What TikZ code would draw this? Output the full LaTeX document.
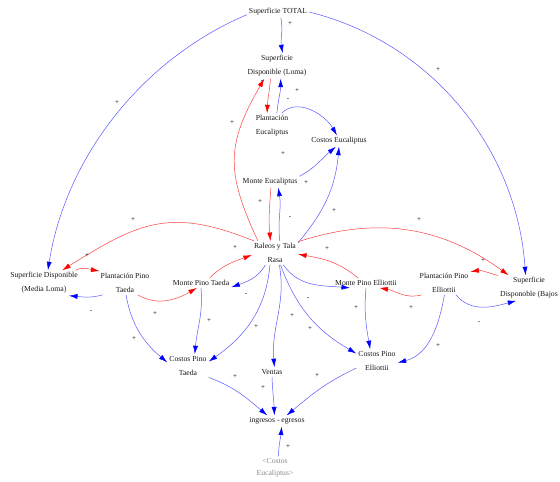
\documentclass[tikz,border=0pt]{standalone}
\usepackage{fontspec}
\setmainfont{Liberation Serif}
\usetikzlibrary{arrows.meta}
\tikzset{
  var/.style={font=\fontsize{7.7}{14}\selectfont, align=center, inner sep=2pt, text=black!90},
  shadow/.style={var, font=\fontsize{7.7}{12}\selectfont, text=black!45},
  pol/.style={font=\fontsize{7}{7}\selectfont, inner sep=0pt, text=black},
  lk/.style={line width=0.5pt},
  bl/.style={lk, draw=blue!65, -{Latex[length=8.5pt,width=5pt,color=blue]}},
  rd/.style={lk, draw=red!75, -{Latex[length=8.5pt,width=5pt,color=red]}}
}
\begin{document}
\begin{tikzpicture}[x=1pt,y=1pt]
\fill[white] (0,0) rectangle (560,482);
\useasboundingbox (0,0) rectangle (560,482);
% variables
\node[var] (tot) at (278,470) {Superficie TOTAL};
\node[var] (loma) at (277,416) {Superficie\\Disponible (Loma)};
\node[var] (peuc) at (272,356) {Plantación\\Eucaliptus};
\node[var] (ceuc) at (339,341) {Costos Eucaliptus};
\node[var] (meuc) at (270,300) {Monte Eucaliptus};
\node[var] (ral) at (275,229) {Raleos y Tala\\Rasa};
\node[var] (media) at (44,199) {Superficie Disponible\\(Media Loma)};
\node[var] (ppt) at (125,199) {Plantación Pino\\Taeda};
\node[var] (mpt) at (201,199) {Monte Pino Taeda};
\node[var] (mpe) at (366,199) {Monte Pino Elliottii};
\node[var] (ppe) at (444,199) {Plantación Pino\\Elliottii};
\node[var] (bajos) at (529,194) {Superficie\\Disponoble (Bajos};
\node[var] (cpt) at (188,116) {Costos Pino\\Taeda};
\node[var] (ventas) at (272,110) {Ventas};
\node[var] (cpe) at (377,121) {Costos Pino\\Elliottii};
\node[var] (ing) at (277,61) {ingresos - egresos};
\node[shadow] (ceuc2) at (275,14) {<Costos\\Eucaliptus>};
% connectors
\draw[bl] (tot.-63) to[out=-80,in=100] (loma.66);
\draw[bl] (tot.185) to[out=203,in=81,looseness=0.9] (media.73);
\draw[bl] (tot.east) to[out=-14,in=94,looseness=0.95] (bajos.105);
\draw[rd] (loma.243) to[out=265,in=88] (peuc.111);
\draw[bl] (peuc.69) to[out=85,in=270] (loma.-74);
\draw[bl] (peuc.53) to[out=45,in=120] (ceuc.110);
\draw[bl] (meuc.north east) to[out=28,in=220] (ceuc.241);
\draw[bl] (ral.24) to[out=50,in=265] (ceuc.south);
\draw[bl] (ral.68) to[out=97,in=-80] (meuc.-35);
\draw[rd] (meuc.-80) to[out=265,in=95] (ral.111);
\draw[rd] (ral.145) to[out=115,in=240,looseness=1.2] (loma.225);
\draw[rd] (ral.150) to[out=158,in=32,looseness=1.2] (media.35);
\draw[rd] (media.22) to[out=25,in=170] (ppt.155);
\draw[bl] (ppt.208) to[out=195,in=-5] (media.-27);
\draw[rd] (ppt.-43) to[out=-30,in=210] (mpt.230);
\draw[rd] (mpt.30) to[out=45,in=200] (ral.185);
\draw[bl] (ral.231) to[out=240,in=20] (mpt.-8);
\draw[bl] (ppt.-85) to[out=-80,in=140] (cpt.170);
\draw[bl] (mpt.south) to[out=-85,in=85] (cpt.60);
\draw[bl] (ral.247) to[out=265,in=35] (cpt.12);
\draw[bl] (ral.-70) to[out=-80,in=95] (ventas.63);
\draw[bl] (ral.-65) to[out=-70,in=150] (cpe.160);
\draw[bl] (ral.-55) to[out=-55,in=175] (mpe.197);
\draw[rd] (mpe.148) to[out=140,in=-10] (ral.-3);
\draw[rd] (ppe.208) to[out=195,in=-10] (mpe.-20);
\draw[bl] (mpe.south) to[out=265,in=100] (cpe.120);
\draw[bl] (ppe.-88) to[out=260,in=15] (cpe.-5);
\draw[bl] (ppe.-45) to[out=-50,in=195] (bajos.225);
\draw[rd] (bajos.158) to[out=165,in=10] (ppe.23);
\draw[rd] (ral.26) to[out=18,in=144] (bajos.148);
\draw[bl] (cpt.-29) to[out=-20,in=140] (ing.150);
\draw[bl] (ventas.south) to[out=-88,in=92] (ing.115);
\draw[bl] (cpe.199) to[out=205,in=40] (ing.30);
\draw[bl] (ceuc2.73) to[out=90,in=265] (ing.-50);
% polarities
\foreach \n/\x/\y/\s in {
 1/290/458/+, 2/117/379/+, 3/438/412/+, 4/297/391/+, 5/288/382/-,
 6/262/400/-, 7/232/359/+, 8/283/328/+, 9/306/299/+, 10/260/280/+,
 11/290/264/-, 12/334/271/+, 13/235/234/+, 14/327/233/+, 15/133/262/+,
 16/87/226/+, 17/91/170/-, 18/155/168/+, 19/246/187/-, 20/209/161/+,
 21/256/155/+, 22/134/143/+, 23/292/166/+, 24/308/183/-, 25/310/153/+,
 26/356/174/+, 27/411/174/+, 28/419/262/+, 29/483/221/+, 30/479/159/-,
 31/438/136/+, 32/235/105/+, 33/263/94/+, 34/317/106/+, 35/288/35/+}
 {\node[pol] (p\n) at (\x,\y) {\s};}
\end{tikzpicture}
\end{document}
